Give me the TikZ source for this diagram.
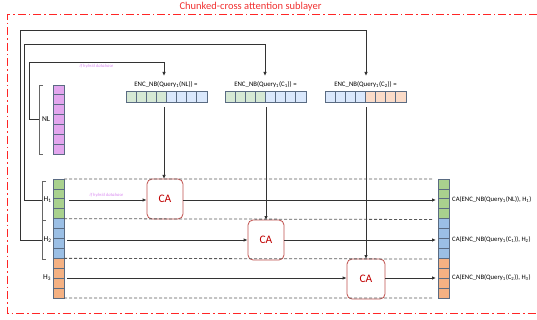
\documentclass[tikz,border=0pt]{standalone}
\usepackage{fontspec}
\setmainfont{Carlito}
\usetikzlibrary{arrows.meta,calc}
\definecolor{cellborder}{HTML}{5A6B82}
\definecolor{violetc}{HTML}{E3A6EE}
\definecolor{lgreen}{HTML}{D5E8D4}
\definecolor{lblue}{HTML}{DAE8FC}
\definecolor{lpeach}{HTML}{FADBC8}
\definecolor{dgreen}{HTML}{A9D18E}
\definecolor{dblue}{HTML}{9BBFE5}
\definecolor{dorange}{HTML}{F4B183}
\definecolor{caborder}{HTML}{C0504D}
\definecolor{catext}{HTML}{C00000}
\definecolor{titlered}{HTML}{F03030}
\definecolor{hybrid}{HTML}{D98CF0}
\definecolor{linec}{HTML}{333333}
\begin{document}
\begin{tikzpicture}[x=1pt,y=-1pt,
  cell/.style={draw=cellborder,line width=0.7pt,inner sep=0pt,outer sep=0pt,minimum width=11pt,minimum height=9.9pt},
  ecell/.style={draw=cellborder,line width=0.6pt,inner sep=0pt,outer sep=0pt,minimum width=10.1pt,minimum height=11pt},
  cabox/.style={draw=caborder,line width=0.8pt,rounded corners=5pt,fill=white,minimum width=36pt,minimum height=40pt,inner sep=0pt,text=catext,font=\fontsize{11.5}{12}\selectfont},
  conn/.style={draw=linec,line width=0.8pt},
  arr/.style={conn,-{Latex[length=4pt,width=3.5pt]}},
  rowsep/.style={draw=black!65,line width=0.8pt,dash pattern=on 3pt off 2pt},
  brk/.style={draw=black!60,line width=0.8pt},
  outerframe/.style={draw=red!85!white,line width=1pt,dash pattern=on 8pt off 3pt on 1.5pt off 3pt},
  enclbl/.style={font=\fontsize{6.8}{7}\selectfont,inner sep=0pt},
  outlbl/.style={font=\fontsize{6.7}{7}\selectfont,inner sep=0pt,anchor=west},
  hlbl/.style={font=\fontsize{7.5}{8}\selectfont,inner sep=0pt},
  hyb/.style={font=\fontsize{4.6}{5}\selectfont\itshape,text=hybrid,inner sep=0pt}
]
\useasboundingbox (0,0) rectangle (537,320);
% title and border
\node[text=titlered,font=\fontsize{10.5}{12}\selectfont,inner sep=0pt] (title) at (250.5,7) {Chunked-cross attention sublayer};
\path[outerframe] (537,15) -- (7,15) -- (7,313) -- (537,313);

% NL stack
\foreach \i in {0,...,6}
  \node[cell,fill=violetc] (nl\i) at (58.5,{85+9.86*\i+4.93}) {};
% left stack and right stack
\foreach \i/\c in {0/dgreen,1/dgreen,2/dgreen,3/dgreen,4/dblue,5/dblue,6/dblue,7/dblue,8/dorange,9/dorange,10/dorange,11/dorange}{
  \node[cell,fill=\c] (ls\i) at (58.5,{179+9.92*\i+4.96}) {};
  \node[cell,fill=\c] (rs\i) at (443.5,{179+9.92*\i+4.96}) {};
}
% ENC groups
\foreach \i/\c in {0/lgreen,1/lgreen,2/lgreen,3/lgreen,4/lblue,5/lblue,6/lblue,7/lblue}
  \node[ecell,fill=\c] (ea\i) at ({126+10.1*\i+5.05},96.5) {};
\foreach \i/\c in {0/lgreen,1/lgreen,2/lgreen,3/lgreen,4/lblue,5/lblue,6/lblue,7/lblue}
  \node[ecell,fill=\c] (eb\i) at ({225+10.1*\i+5.05},96.5) {};
\foreach \i/\c in {0/lblue,1/lblue,2/lblue,3/lblue,4/lpeach,5/lpeach,6/lpeach,7/lpeach}
  \node[ecell,fill=\c] (ec\i) at ({325+10.1*\i+5.05},96.5) {};

% ENC labels
\node[enclbl] (encA) at (166,85) {ENC\_NB(Query\textsubscript{1}(NL)) =};
\node[enclbl] (encB) at (265.5,85) {ENC\_NB(Query\textsubscript{1}(C\textsubscript{1})) =};
\node[enclbl] (encC) at (365.5,85) {ENC\_NB(Query\textsubscript{1}(C\textsubscript{2})) =};

% CA boxes
\node[cabox] (ca1) at (165,199) {CA};
\node[cabox] (ca2) at (266,240) {CA};
\node[cabox,minimum width=38pt] (ca3) at (366,279) {CA};

% row separators
\draw[rowsep] (ls0.north east) -- (433,179);
\draw[rowsep] (ls3.south east) -- (433,219.5);
\draw[rowsep] (ls7.south east) -- (433,259);
\draw[rowsep] (ls11.south east) -- (433,298);

% brackets
\draw[brk] (43,85) -- (39,85) -- (39,154) -- (43,154);
\coordinate (nlb) at (39,119);
\draw[brk] (46,181) -- (42,181) -- (42,259) -- (46,259);
\draw[brk] (42,220) -- (46,220);
\coordinate (h1b) at (42,200);
\coordinate (h2b) at (42,240);

% labels
\node[hlbl] (nllbl) at (46,119) {NL};
\node[hlbl] (h1lbl) at (47.5,200) {H\textsubscript{1}};
\node[hlbl] (h2lbl) at (47.5,240) {H\textsubscript{2}};
\node[hlbl] (h3lbl) at (47,278) {H\textsubscript{3}};
\node[hyb] (hybA) at (96.5,66.5) {if hybrid database};
\node[hyb] (hybB) at (106.5,195) {if hybrid database};

% loops to ENC labels
\draw[arr] (nlb) -- (29,119) -- (29,62) -- (164,62) -- (164,76);
\draw[arr] (h1b) -- (24.5,200) -- (24.5,44) -- (265,44) -- (265,76);
\draw[arr] (h2b) -- (20,240) -- (20,30) -- (366,30) -- (366,76);

% vertical arrows to CA
\draw[arr] (164,107) -- (164,179);
\draw[arr] (266,107) -- (266,220);
\draw[arr] (366,107) -- (366,259);

% row arrows
\coordinate (r1s) at (69,200);
\coordinate (r2s) at (67,240);
\coordinate (r3s) at (67,278);
\draw[arr] (r1s) -- (ca1.west |- r1s);
\draw[arr] (r2s) -- (ca2.west |- r2s);
\draw[arr] (r3s) -- (ca3.west |- r3s);
\draw[arr,shorten >=2pt] (ca1.east |- r1s) -- (rs0.west |- r1s);
\draw[arr,shorten >=2pt] (ca2.east |- r2s) -- (rs0.west |- r2s);
\draw[arr,shorten >=2pt] (ca3.east |- r3s) -- (rs0.west |- r3s);

% output labels
\node[outlbl] (o1) at (452,200) {CA(ENC\_NB(Query\textsubscript{1}(NL)), H\textsubscript{1})};
\node[outlbl] (o2) at (452,240) {CA(ENC\_NB(Query\textsubscript{1}(C\textsubscript{1})), H\textsubscript{2})};
\node[outlbl] (o3) at (452,278) {CA(ENC\_NB(Query\textsubscript{1}(C\textsubscript{2})), H\textsubscript{3})};
\end{tikzpicture}
\end{document}
